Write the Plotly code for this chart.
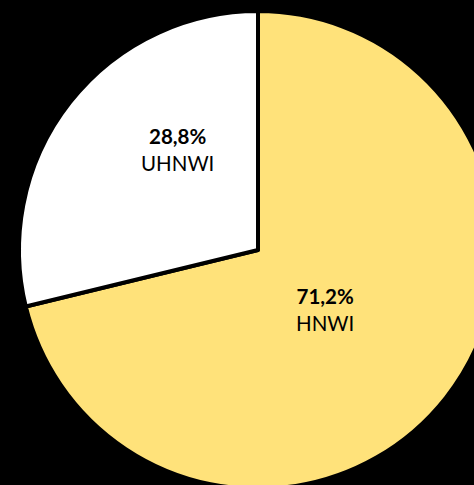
import plotly.graph_objects as go

labels = ["HNWI", "UHNWI"]
values = [71.2, 28.8]
colors = ["#FFE27A", "#FFFFFF"]

W, H = 516, 500

fig = go.Figure(go.Pie(
    labels=labels,
    values=values,
    sort=False,
    direction="clockwise",
    rotation=0,
    marker=dict(colors=colors, line=dict(color="#000000", width=4)),
    textinfo="none",
    hoverinfo="none",
    domain=dict(x=[0, 1], y=[0.022, 0.978]),
    showlegend=False,
))

# label positions (pixels in the figure) for each slice
label_px = {"HNWI": (325, 309), "UHNWI": (177, 149)}
for lab, val in zip(labels, values):
    px, py = label_px[lab]
    pct = f"{val:.1f}".replace(".", ",")
    fig.add_annotation(
        x=px / W, y=1 - py / H, xref="paper", yref="paper",
        xanchor="center", yanchor="middle",
        text=f"<b>{pct}%</b><br>{lab}", showarrow=False,
        font=dict(family="Lato, Carlito, sans-serif", size=20.5, color="#000000"),
        align="center",
    )

fig.update_layout(
    width=W, height=H, autosize=False,
    margin=dict(l=0, r=0, t=0, b=0),
    paper_bgcolor="#000000", plot_bgcolor="#000000",
)

fig.write_html(
    "out.html",
    post_script="document.body.style.margin='0';document.body.style.overflow='hidden';document.documentElement.style.overflow='hidden';",
)
